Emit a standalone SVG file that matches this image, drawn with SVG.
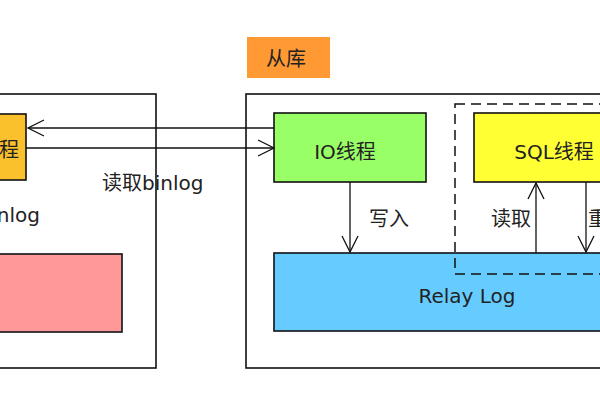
<svg xmlns="http://www.w3.org/2000/svg" width="600" height="400" viewBox="0 0 600 400">
<defs>
<style>
.box{stroke:#111;stroke-width:1.6}
.t{font-family:"DejaVu Sans","Noto Sans CJK SC",sans-serif;font-size:20px;fill:#222}
.ln{stroke:#111;stroke-width:1.3;fill:none}
</style>
<marker id="open" viewBox="0 0 20 20" refX="18" refY="10" markerWidth="20" markerHeight="20" markerUnits="userSpaceOnUse" orient="auto">
<path d="M2,2 L18,10 L2,18" fill="none" stroke="#111" stroke-width="1.3"/>
</marker>
</defs>
<rect width="600" height="400" fill="#fff"/>
<g id="master">
<rect x="-10" y="94" width="166" height="274" fill="none" class="box"/>
<text x="40" y="222" class="t" text-anchor="end" font-size="17">binlog</text>
</g>
<g id="master-io">
<rect x="-10" y="114" width="36" height="66" fill="#FBC12C" class="box"/>
<text x="19" y="157" class="t" text-anchor="end" font-size="18">IO线程</text>
</g>
<g id="master-binlog">
<rect x="-10" y="254" width="132" height="78" fill="#FF9999" class="box"/>
</g>
<g id="slave-label">
<rect x="247" y="37" width="83" height="41" fill="#FF9933"/>
<text x="286" y="66" class="t" text-anchor="middle">从库</text>
</g>
<g id="slave">
<rect x="246" y="94" width="370" height="274" fill="none" class="box"/>
</g>
<g id="relay">
<rect x="274" y="253" width="340" height="78" fill="#66CCFF" class="box"/>
<text x="467" y="303" class="t" text-anchor="middle">Relay Log</text>
</g>
<g id="io">
<rect x="274" y="113" width="152" height="69" fill="#99FF66" class="box"/>
<text x="345" y="159" class="t" text-anchor="middle">IO线程</text>
</g>
<g id="sql">
<rect x="474" y="113" width="140" height="69" fill="#FFFF33" class="box"/>
<text x="554" y="159" class="t" text-anchor="middle">SQL线程</text>
</g>
<g id="sql-group">
<rect x="455" y="104" width="160" height="170" fill="none" stroke="#111" stroke-width="1.5" stroke-dasharray="10,6"/>
</g>
<g id="connectors">
<line x1="274" y1="128" x2="28" y2="128" class="ln" marker-end="url(#open)"/>
<line x1="26" y1="148" x2="274" y2="148" class="ln" marker-end="url(#open)"/>
<line x1="350" y1="182" x2="350" y2="252" class="ln" marker-end="url(#open)"/>
<line x1="536" y1="253" x2="536" y2="183" class="ln" marker-end="url(#open)"/>
<line x1="586" y1="182" x2="586" y2="252" class="ln" marker-end="url(#open)"/>
<text x="102" y="190" class="t">读取binlog</text>
<text x="369" y="226" class="t">写入</text>
<text x="491" y="226" class="t">读取</text>
<text x="588" y="226" class="t">重</text>
</g>
</svg>
